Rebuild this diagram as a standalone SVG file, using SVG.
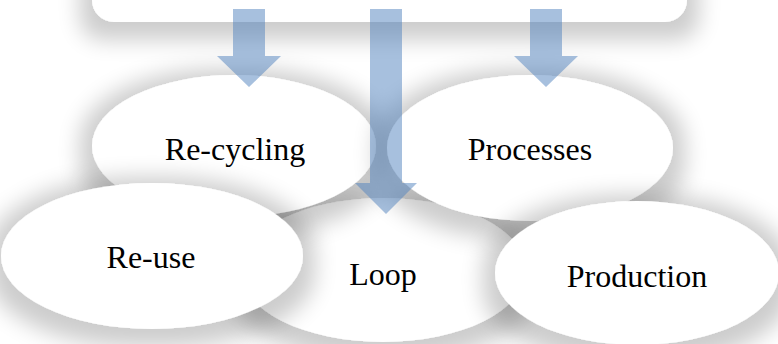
<svg xmlns="http://www.w3.org/2000/svg" width="778" height="344" viewBox="0 0 778 344">
<style>
.node{fill:#ffffff;filter:url(#sh)}
.lbl{font-family:"Liberation Serif","Times New Roman",serif;font-size:32px;fill:#000000;text-anchor:middle}
.arr{fill:#4f81bd;fill-opacity:0.5}
</style>
<defs>
<filter id="sh" x="-40%" y="-50%" width="180%" height="200%">
<feMorphology in="SourceAlpha" operator="dilate" radius="12" result="d"/>
<feGaussianBlur in="d" stdDeviation="11" result="b"/>
<feOffset in="b" dy="6" result="o"/>
<feComponentTransfer in="o" result="s"><feFuncA type="linear" slope="0.2"/></feComponentTransfer>
<feMerge><feMergeNode in="s"/><feMergeNode in="SourceGraphic"/></feMerge>
</filter>
</defs>
<rect width="778" height="344" fill="#ffffff"/>
<g id="top"><rect class="node" x="92" y="-80" width="595" height="102" rx="22" ry="22"/></g>
<g id="loop"><ellipse class="node" cx="383" cy="270" rx="143" ry="72"/><text class="lbl" x="383" y="285">Loop</text></g>
<g id="recycling"><ellipse class="node" cx="234" cy="146" rx="142" ry="71"/><text class="lbl" x="235" y="160">Re-cycling</text></g>
<g id="processes"><ellipse class="node" cx="530" cy="148" rx="143" ry="73"/><text class="lbl" x="530" y="160">Processes</text></g>
<g id="reuse"><ellipse class="node" cx="152" cy="256" rx="151" ry="73"/><text class="lbl" x="151" y="268">Re-use</text></g>
<g id="production"><ellipse class="node" cx="637" cy="273" rx="142" ry="72"/><text class="lbl" x="637" y="287">Production</text></g>
<g id="connectors">
<path class="arr" d="M233,9 H265 V56 H281 L249,87 L217,56 H233 Z"/>
<path class="arr" d="M370,9 H402 V183 H417 L386,214 L355,183 H370 Z"/>
<path class="arr" d="M530,9 H562 V56 H578 L546,87 L514,56 H530 Z"/>
</g>
</svg>
